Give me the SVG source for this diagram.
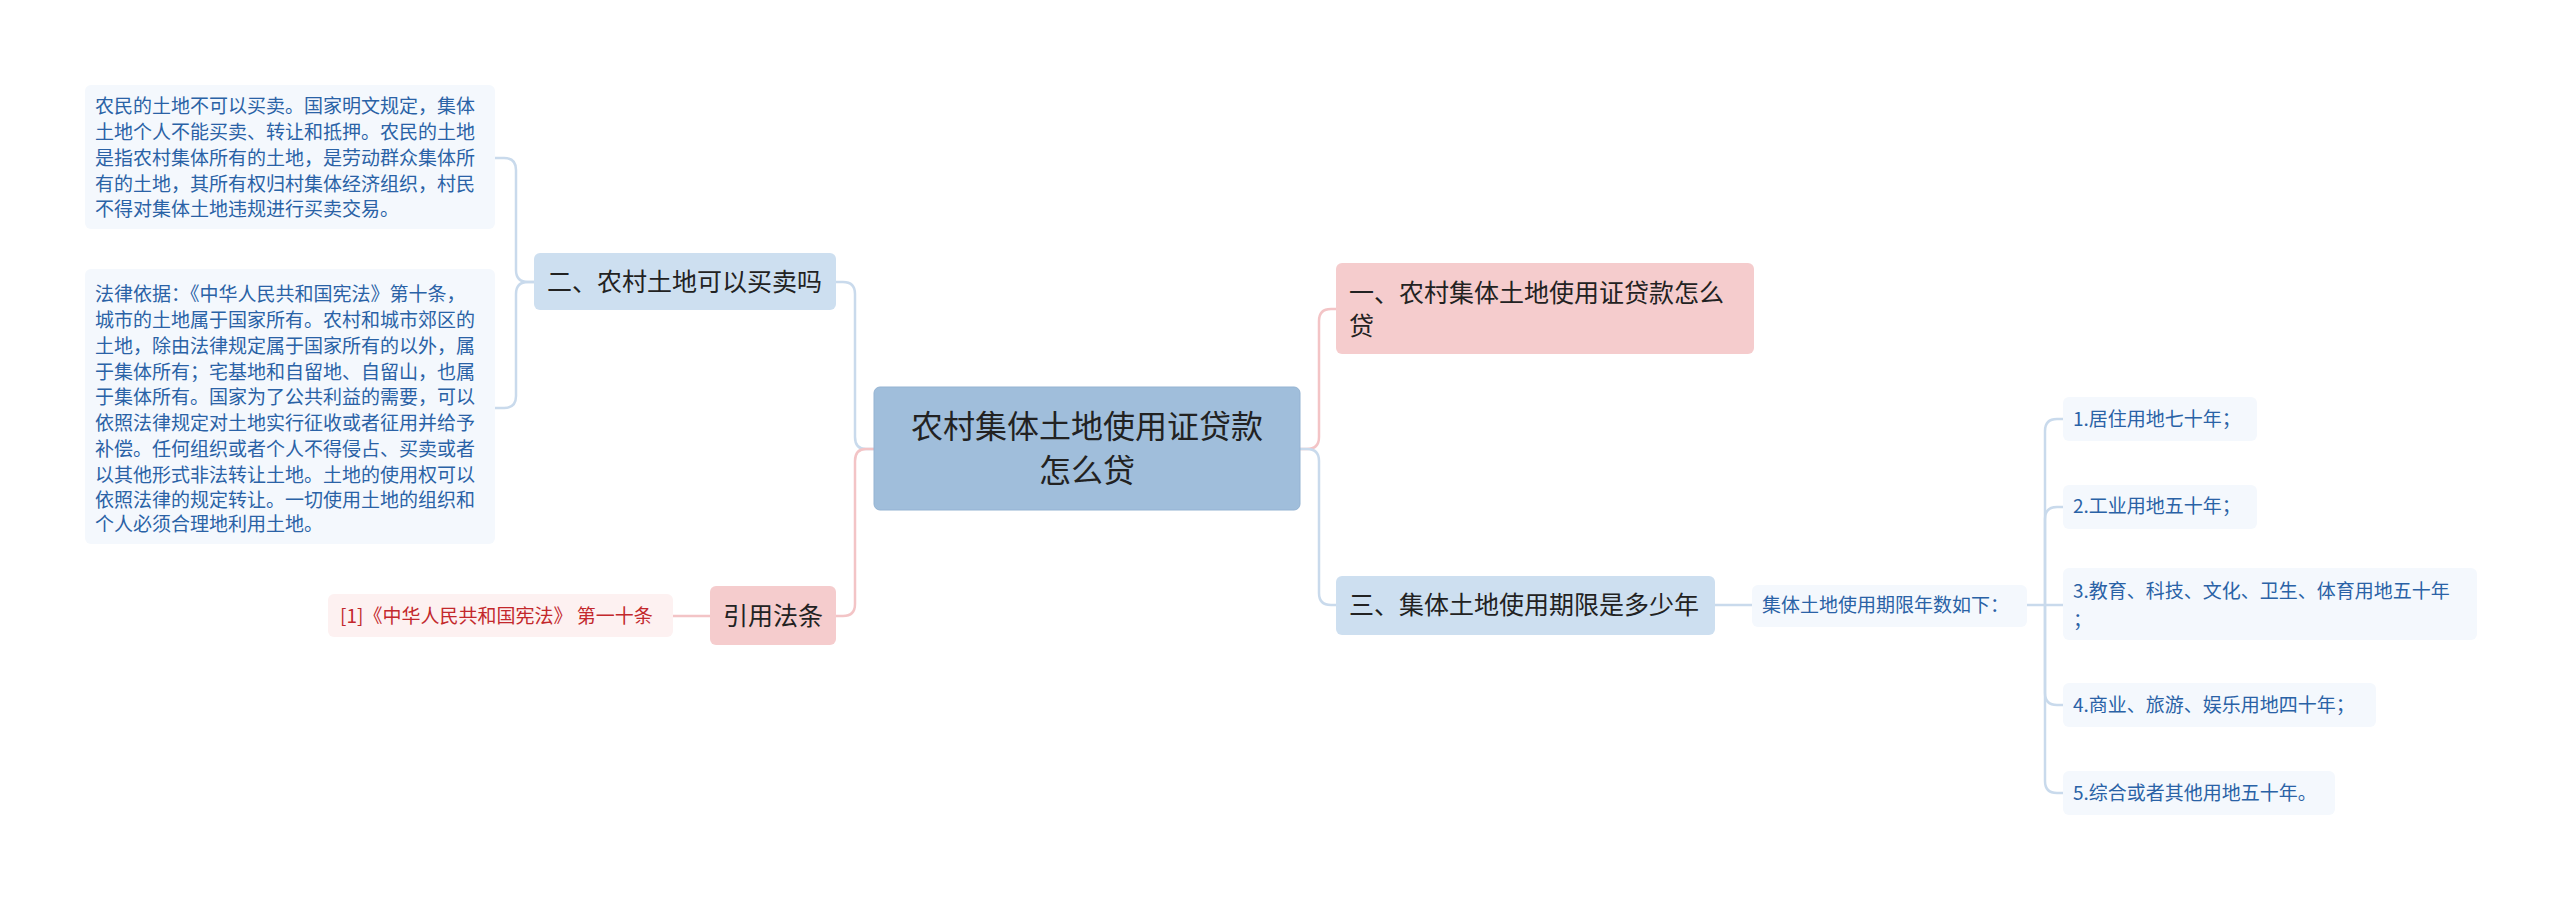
<svg xmlns="http://www.w3.org/2000/svg" width="2560" height="900" viewBox="0 0 2560 900">
<style>
text{font-family:"Noto Sans CJK SC","Noto Sans",sans-serif}
.leaf{fill:#f4f8fd}
.lt{font-size:19px;fill:#2a62a6}
.bt{font-size:25px;fill:#222}
.bl{fill:none;stroke:#c9daec;stroke-width:2.5}
.pk{fill:none;stroke:#f3c4c6;stroke-width:2.5}
</style>
<rect width="2560" height="900" fill="#fff"/>
<g id="connectors">
<path class="bl" d="M874,449 H866 Q855,449 855,437 V294 Q855,282 843,282 H836"/>
<path class="pk" d="M874,449 H866 Q855,449 855,461 V604 Q855,616 843,616 H836"/>
<path class="bl" d="M534,282 H528 Q516,282 516,270 V170 Q516,158 504,158 H495"/>
<path class="bl" d="M534,282 H528 Q516,282 516,294 V396 Q516,408 504,408 H495"/>
<path class="pk" d="M710,616 H673"/>
<path class="pk" d="M1300,449 H1307 Q1319,449 1319,437 V321 Q1319,309 1331,309 H1336"/>
<path class="bl" d="M1300,449 H1307 Q1319,449 1319,461 V593 Q1319,605 1331,605 H1336"/>
<path class="bl" d="M1715,605 H1752"/>
<path class="bl" d="M2027,605 H2045"/>
<path class="bl" d="M2045,605 V431 Q2045,419 2057,419 H2063"/>
<path class="bl" d="M2045,605 V519 Q2045,507 2057,507 H2063"/>
<path class="bl" d="M2045,605 H2063"/>
<path class="bl" d="M2045,605 V693 Q2045,705 2057,705 H2063"/>
<path class="bl" d="M2045,605 V781 Q2045,793 2057,793 H2063"/>
</g>
<g id="center">
<rect x="874" y="387" width="426" height="123" rx="6" fill="#a0bedb" stroke="#94b3d2"/>
<text x="1087" y="438" font-size="32" fill="#222" text-anchor="middle">农村集体土地使用证贷款</text>
<text x="1087" y="482" font-size="32" fill="#222" text-anchor="middle">怎么贷</text>
</g>
<g id="n2">
<rect x="534" y="253" width="302" height="57" rx="6" fill="#cddff0"/>
<text class="bt" x="547" y="291">二、农村土地可以买卖吗</text>
</g>
<g id="n2a">
<rect class="leaf" x="85" y="85" width="410" height="144" rx="6"/>
<text class="lt" x="95" y="113">农民的土地不可以买卖。国家明文规定，集体</text>
<text class="lt" x="95" y="139">土地个人不能买卖、转让和抵押。农民的土地</text>
<text class="lt" x="95" y="165">是指农村集体所有的土地，是劳动群众集体所</text>
<text class="lt" x="95" y="191">有的土地，其所有权归村集体经济组织，村民</text>
<text class="lt" x="95" y="216">不得对集体土地违规进行买卖交易。</text>
</g>
<g id="n2b">
<rect class="leaf" x="85" y="269" width="410" height="275" rx="6"/>
<text class="lt" x="95" y="301">法律依据：《中华人民共和国宪法》第十条，</text>
<text class="lt" x="95" y="327">城市的土地属于国家所有。农村和城市郊区的</text>
<text class="lt" x="95" y="353">土地，除由法律规定属于国家所有的以外，属</text>
<text class="lt" x="95" y="379">于集体所有；宅基地和自留地、自留山，也属</text>
<text class="lt" x="95" y="404">于集体所有。国家为了公共利益的需要，可以</text>
<text class="lt" x="95" y="430">依照法律规定对土地实行征收或者征用并给予</text>
<text class="lt" x="95" y="456">补偿。任何组织或者个人不得侵占、买卖或者</text>
<text class="lt" x="95" y="482">以其他形式非法转让土地。土地的使用权可以</text>
<text class="lt" x="95" y="507">依照法律的规定转让。一切使用土地的组织和</text>
<text class="lt" x="95" y="531">个人必须合理地利用土地。</text>
</g>
<g id="ref">
<rect x="710" y="586" width="126" height="59" rx="6" fill="#f5cccd"/>
<text class="bt" x="773" y="625" text-anchor="middle">引用法条</text>
</g>
<g id="ref1">
<rect x="328" y="594" width="345" height="43" rx="6" fill="#fdf1f1"/>
<text x="340" y="623" font-size="19" fill="#c3282c">[1]《中华人民共和国宪法》 第一十条</text>
</g>
<g id="n1">
<rect x="1336" y="263" width="418" height="91" rx="6" fill="#f5cccd"/>
<text class="bt" x="1349" y="302">一、农村集体土地使用证贷款怎么</text>
<text class="bt" x="1349" y="335">贷</text>
</g>
<g id="n3">
<rect x="1336" y="576" width="379" height="59" rx="6" fill="#cddff0"/>
<text class="bt" x="1349" y="614">三、集体土地使用期限是多少年</text>
</g>
<g id="n3a">
<rect class="leaf" x="1752" y="585" width="275" height="42" rx="6"/>
<text class="lt" x="1762" y="612">集体土地使用期限年数如下：</text>
</g>
<g id="l1"><rect class="leaf" x="2063" y="397" width="194" height="44" rx="6"/><text class="lt" x="2073" y="426">1.居住用地七十年；</text></g>
<g id="l2"><rect class="leaf" x="2063" y="485" width="194" height="44" rx="6"/><text class="lt" x="2073" y="513">2.工业用地五十年；</text></g>
<g id="l3"><rect class="leaf" x="2063" y="568" width="414" height="72" rx="6"/><text class="lt" x="2073" y="598">3.教育、科技、文化、卫生、体育用地五十年</text><text class="lt" x="2073" y="627">；</text></g>
<g id="l4"><rect class="leaf" x="2063" y="683" width="313" height="44" rx="6"/><text class="lt" x="2073" y="712">4.商业、旅游、娱乐用地四十年；</text></g>
<g id="l5"><rect class="leaf" x="2063" y="771" width="272" height="44" rx="6"/><text class="lt" x="2073" y="800">5.综合或者其他用地五十年。</text></g>
</svg>
